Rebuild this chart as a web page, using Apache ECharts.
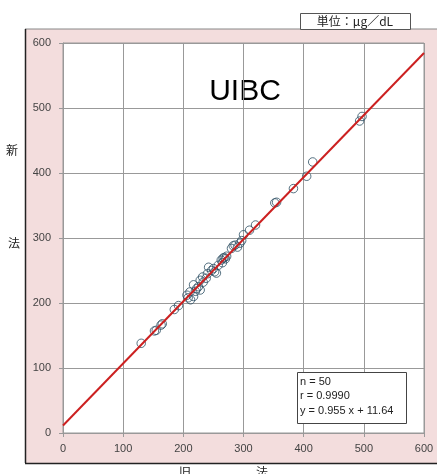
<!DOCTYPE html>
<html><head><meta charset="utf-8">
<script src="https://cdn.jsdelivr.net/npm/echarts@6/dist/echarts.min.js"></script>
<style>html,body{margin:0;padding:0;background:#fff}#c{width:437px;height:474px}</style>
</head><body><div id="c"></div>
<script>
const oldMethod = [130,152,155,163,165,185,192,206,208,211,212,217,217,220,222,225,228,228,232,233,238,240,242,247,250,252,255,258,263,265,266,268,270,272,280,283,286,290,294,297,300,310,320,352,355,383,405,415,493,497];
const newMethod = [138,157,158,166,168,190,196,212,208,217,205,210,228,218,222,225,235,220,240,232,238,245,255,250,253,248,246,258,266,262,269,270,268,272,284,288,289,286,292,296,305,312,320,354,355,376,395,417,480,487];
const slope = 0.955, intercept = 11.64;
const axisTicks = [0,100,200,300,400,500,600];
const statLines = ['n = 50','r = 0.9990','y = 0.955 x + 11.64'];
const title = 'UIBC';
const unitText = '単位：μg／dL';

const pts = oldMethod.map((x,i)=>[x,newMethod[i]]);
const fitLine = [[axisTicks[0], slope*axisTicks[0]+intercept],[axisTicks[axisTicks.length-1], slope*axisTicks[axisTicks.length-1]+intercept]];

const chart = echarts.init(document.getElementById('c'));
const lblFont = {color:'#444', fontSize:11, fontFamily:'Liberation Sans, Arial, sans-serif'};
const axisCommon = {
  type:'value', min:0, max:600, interval:100,
  axisLine:{show:true, lineStyle:{color:'#999', width:1}},
  axisTick:{show:true, inside:false, length:4, lineStyle:{color:'#999'}},
  splitLine:{show:true, lineStyle:{color:'#999', width:1}},
};
chart.setOption({
  animation:false,
  backgroundColor:'#fff',
  grid:{left:63, right:13, top:43, bottom:41, show:true, backgroundColor:'#fff', borderColor:'#999', borderWidth:1},
  xAxis:Object.assign({}, axisCommon, {axisLabel:Object.assign({margin:10}, lblFont)}),
  yAxis:Object.assign({}, axisCommon, {axisLabel:Object.assign({margin:12}, lblFont)}),
  graphic:[
    {type:'rect', z:-10, silent:true, shape:{x:25, y:29, width:412, height:434}, style:{fill:'#f3dddd', stroke:null}},
    {type:'line', z:-5, shape:{x1:25,y1:29,x2:437,y2:29}, style:{stroke:'#888', lineWidth:1}},
    {type:'line', z:-5, shape:{x1:25.5,y1:29,x2:25.5,y2:463}, style:{stroke:'#222', lineWidth:1.5}},
    {type:'line', z:-5, shape:{x1:25,y1:463.5,x2:437,y2:463.5}, style:{stroke:'#222', lineWidth:1.5}},
    {type:'rect', shape:{x:300.5, y:13.5, width:110, height:16}, style:{fill:'#fff', stroke:'#555', lineWidth:1}},
    {type:'text', x:355, y:21.5, style:{text:unitText, fill:'#222', fontSize:12, fontFamily:'Noto Sans CJK JP, sans-serif', align:'center', verticalAlign:'middle'}},
    {type:'text', x:245, y:92, style:{text:title, fill:'#000', fontSize:30, fontFamily:'Liberation Sans, Arial, sans-serif', align:'center', verticalAlign:'middle'}},
    {type:'text', x:12, y:150, style:{text:'新', fill:'#222', fontSize:12, fontFamily:'Noto Sans CJK JP, sans-serif', align:'center', verticalAlign:'middle'}},
    {type:'text', x:14, y:243, style:{text:'法', fill:'#222', fontSize:12, fontFamily:'Noto Sans CJK JP, sans-serif', align:'center', verticalAlign:'middle'}},
    {type:'text', x:185, y:472, style:{text:'旧', fill:'#222', fontSize:12, fontFamily:'Noto Sans CJK JP, sans-serif', align:'center', verticalAlign:'middle'}},
    {type:'text', x:262, y:472, style:{text:'法', fill:'#222', fontSize:12, fontFamily:'Noto Sans CJK JP, sans-serif', align:'center', verticalAlign:'middle'}},
    {type:'rect', z:50, shape:{x:297.5, y:372.5, width:109, height:51}, style:{fill:'#fff', stroke:'#444', lineWidth:1}},
    {type:'text', z:51, x:300, y:382, style:{text:statLines[0], fill:'#222', fontSize:11, fontFamily:'Liberation Sans, Arial, sans-serif', verticalAlign:'middle'}},
    {type:'text', z:51, x:300, y:396, style:{text:statLines[1], fill:'#222', fontSize:11, fontFamily:'Liberation Sans, Arial, sans-serif', verticalAlign:'middle'}},
    {type:'text', z:51, x:300, y:411, style:{text:statLines[2], fill:'#222', fontSize:11, fontFamily:'Liberation Sans, Arial, sans-serif', verticalAlign:'middle'}}
  ],
  series:[
    {type:'scatter', data:pts, symbol:'circle', symbolSize:8.5, z:3,
     itemStyle:{color:'rgba(255,255,255,0)', borderColor:'#2d4f63', borderWidth:1}},
    {type:'line', data:fitLine, symbol:'none', z:4, lineStyle:{color:'#cc2020', width:2}}
  ]
});
</script></body></html>
